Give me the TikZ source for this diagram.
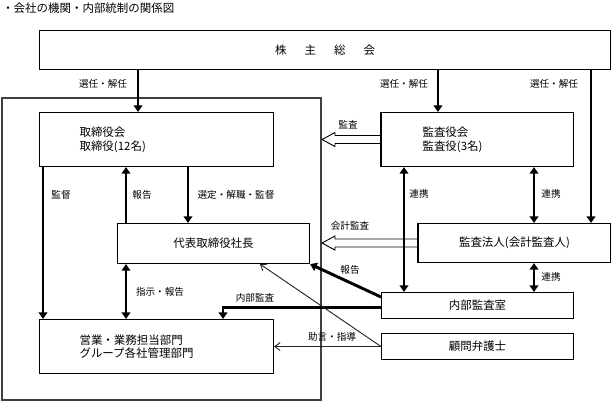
\documentclass[tikz,border=0pt]{standalone}
\usepackage{fontspec}
\setmainfont{Noto Sans CJK JP}
\usetikzlibrary{arrows.meta,calc}
\begin{document}
\begin{tikzpicture}[x=0.75pt,y=-0.75pt,
 box/.style={draw,line width=0.8pt,inner sep=0pt,font=\fontsize{8.6}{10.2}\selectfont},
 lbl/.style={font=\fontsize{7.2}{8}\selectfont,inner sep=0pt},
 tarrow/.style={line width=2.2pt,-{Triangle[length=5pt,width=6.5pt]}},
 tboth/.style={line width=2.2pt,{Triangle[length=5pt,width=6.5pt]}-{Triangle[length=5pt,width=6.5pt]}},
 narrow/.style={line width=0.7pt,draw=black!85,-{Straight Barb[length=4pt,width=6pt]}},
 hollow/.style={draw,line width=0.7pt,fill=white}]
\useasboundingbox (0,0) rectangle (613,402);
% column coordinates
\coordinate (c1) at (138,0);
\coordinate (c2) at (438,0);
\coordinate (c3) at (591,0);
\coordinate (c4) at (43,0);
\coordinate (c5) at (126,0);
\coordinate (c6) at (188,0);
\coordinate (c7) at (404,0);
\coordinate (c8) at (534,0);
\coordinate (c9) at (223,0);
\coordinate (c10) at (260,0);

\node[anchor=west,inner sep=0pt,font=\fontsize{8.6}{9}\selectfont] (title) at (2,8) {・会社の機関・内部統制の関係図};

% outer frame
\draw[line width=0.8pt,draw=black!75] (2,98) rectangle (321,400);

% boxes
\node[box,anchor=north west,minimum width=428.25pt,minimum height=29.25pt] (sh) at (39,30)
  {株\hspace{13.5pt}主\hspace{13.5pt}総\hspace{13.5pt}会};
\node[box,anchor=north west,minimum width=175.5pt,minimum height=40.5pt,text width=115.5pt,align=left,inner xsep=30pt] (tb) at (39,112)
  {取締役会\\取締役(12名)};
\node[box,anchor=north west,minimum width=144pt,minimum height=40.5pt,text width=82.5pt,align=left,inner xsep=30.75pt] (kb) at (381,112)
  {監査役会\\監査役(3名)};
\node[box,anchor=north west,minimum width=144pt,minimum height=30pt] (ps) at (117,223) {代表取締役社長};
\node[box,anchor=north west,minimum width=144pt,minimum height=29.25pt] (ka) at (418,223) {監査法人(会計監査人)};
\node[box,anchor=north west,minimum width=144pt,minimum height=19.5pt] (na) at (381,292) {内部監査室};
\node[box,anchor=north west,minimum width=144pt,minimum height=19.5pt] (km) at (381,333) {顧問弁護士};
\node[box,anchor=north west,minimum width=175.5pt,minimum height=40.5pt,text width=115.5pt,align=left,inner xsep=30pt] (eg) at (39,319)
  {営業・業務担当部門\\グループ各社管理部門};

% hollow arrows
\draw[hollow] ($(kb.west)+(0,-4)$) -- ++(-46,0) -- ++(0,-3) -- ++(-13,7) -- ++(13,7) -- ++(0,-3) -- ++(46,0);
\draw[hollow] ($(ka.west)+(0,-4)$) -- ++(-83,0) -- ++(0,-3) -- ++(-13,7) -- ++(13,7) -- ++(0,-3) -- ++(83,0);
\draw[line width=0.8pt] (kb.north west) -- (kb.south west);
\draw[line width=0.8pt] (ka.north west) -- (ka.south west);

% thick arrows
\draw[tarrow] (sh.south -| c1) -- (tb.north -| c1);
\draw[tarrow] (sh.south -| c2) -- (kb.north -| c2);
\draw[tarrow] (sh.south -| c3) -- (ka.north -| c3);
\draw[tarrow] (tb.south -| c4) -- (eg.north -| c4);
\draw[tarrow] (ps.north -| c5) -- (tb.south -| c5);
\draw[tarrow] (tb.south -| c6) -- (ps.north -| c6);
\draw[tboth] (kb.south -| c7) -- (na.north -| c7);
\draw[tboth] (kb.south -| c8) -- (ka.north -| c8);
\draw[tboth] (ka.south -| c8) -- (na.north -| c8);
\draw[tboth] (ps.south -| c5) -- (eg.north -| c5);
\draw[tarrow] ($(na.west)+(0,2)$) -| (eg.north -| c9);
\draw[tarrow] ($(na.north west)+(0,5)$) -- (ps.south east);

% thin arrows
\draw[narrow] (km.west) -- (ps.south -| c10);
\draw[narrow] (km.west) -- (eg.east);

% labels
\node[lbl] (l1) at (103,84) {選任・解任};
\node[lbl] (l2) at (404,84) {選任・解任};
\node[lbl] (l3) at (554,84) {選任・解任};
\node[lbl] (l4) at (348,125) {監査};
\node[lbl] (l5) at (61,195) {監督};
\node[lbl] (l6) at (142,195) {報告};
\node[lbl] (l7) at (236,195) {選定・解職・監督};
\node[lbl] (l8) at (419,194) {連携};
\node[lbl] (l9) at (551,194) {連携};
\node[lbl] (l10) at (350,226) {会計監査};
\node[lbl] (l11) at (350,270) {報告};
\node[lbl] (l12) at (551,277) {連携};
\node[lbl] (l13) at (160,292) {指示・報告};
\node[lbl] (l14) at (255,298) {内部監査};
\node[lbl] (l15) at (332,337) {助言・指導};
\end{tikzpicture}
\end{document}
